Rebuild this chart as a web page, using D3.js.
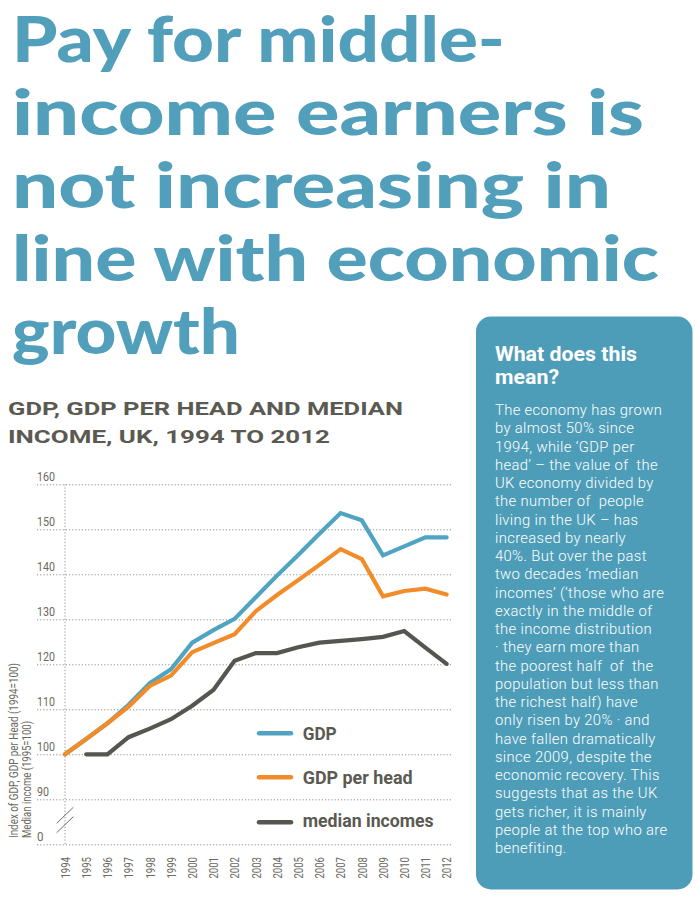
<!DOCTYPE html>
<html>
<head>
<meta charset="utf-8">
<script src="https://cdn.jsdelivr.net/npm/d3@7"></script>
<style>
  html, body { margin: 0; padding: 0; background: #ffffff; }
  svg { display: block; }
</style>
</head>
<body>
<svg id="chart" width="700" height="904"></svg>
<script>
// ---------------- DATA ----------------
const years = [1994,1995,1996,1997,1998,1999,2000,2001,2002,2003,2004,2005,2006,2007,2008,2009,2010,2011,2012];
const gdp = [100,103.4,106.9,111,115.8,118.9,124.8,127.6,130.1,134.9,139.7,144.3,149,153.6,152,144.2,146.2,148.2,148.2];
const gdpPerHead = [100,103.4,106.9,110.6,115.2,117.5,122.7,124.7,126.7,131.8,135.4,138.7,142.1,145.6,143.4,135.1,136.3,136.8,135.5];
const medianIncome = [null,100,100,103.8,105.7,107.8,110.8,114.3,120.8,122.5,122.5,123.8,124.8,125.2,125.6,126.1,127.4,123.7,120.1];
const seriesNames = ["GDP","GDP per head","median incomes"];
const yTickValues = [80,90,100,110,120,130,140,150,160];
const yTickLabels = ["0","90","100","110","120","130","140","150","160"];

const titleLines = ["Pay for middle-","income earners is","not increasing in","line with economic","growth"];
const subtitleLines = ["GDP, GDP PER HEAD AND MEDIAN","INCOME, UK, 1994 TO 2012"];
const yAxisLabelLines = ["Index of GDP, GDP per Head (1994=100)","Median income (1995=100)"];
const boxHeading = ["What does this","mean?"];
const boxBody = [
  "The economy has grown",
  "by almost 50% since",
  "1994, while \u2018GDP per",
  "head\u2019 \u2013 the value of  the",
  "UK economy divided by",
  "the number of  people",
  "living in the UK \u2013 has",
  "increased by nearly",
  "40%. But over the past",
  "two decades \u2018median",
  "incomes\u2019 (\u2018those who are",
  "exactly in the middle of",
  "the income distribution",
  "\u00b7 they earn more than",
  "the poorest half  of  the",
  "population but less than",
  "the richest half) have",
  "only risen by 20% \u00b7 and",
  "have fallen dramatically",
  "since 2009, despite the",
  "economic recovery. This",
  "suggests that as the UK",
  "gets richer, it is mainly",
  "people at the top who are",
  "benefiting."
];

// ---------------- STYLE ----------------
const colors = { gdp: "#4ea4c1", perHead: "#f28c2b", median: "#55564f" };
const titleColor = "#519fba";
const darkText = "#5a5a52";
const tickColor = "#6a6a60";
const boxColor = "#4e9db8";

const svg = d3.select("#chart");

// ---------------- TITLE ----------------
const titleWidths = [493, 632, 599, 647, 228];
const title = svg.append("g");
titleLines.forEach((t, i) => {
  title.append("text")
    .attr("x", 12).attr("y", 62 + i * 72.9)
    .attr("font-family", "Lato, 'Open Sans', sans-serif")
    .attr("font-weight", 900)
    .attr("font-size", 62)
    .attr("fill", titleColor)
    .attr("textLength", titleWidths[i])
    .attr("lengthAdjust", "spacingAndGlyphs")
    .text(t);
});

// ---------------- SUBTITLE ----------------
const subWidths = [395, 322];
subtitleLines.forEach((t, i) => {
  svg.append("text")
    .attr("x", 8).attr("y", 415 + i * 28)
    .attr("font-family", "Roboto, sans-serif")
    .attr("font-weight", 700)
    .attr("font-size", 19)
    .attr("fill", darkText)
    .attr("textLength", subWidths[i])
    .attr("lengthAdjust", "spacingAndGlyphs")
    .text(t);
});

// ---------------- SCALES ----------------
const x = d3.scalePoint().domain(years).range([65, 446.6]);
const y = d3.scaleLinear().domain([80, 160]).range([844.3, 484.3]);

// Y axis / gridlines
const gridLeft = 37, gridRight = 453;
const yAxis = d3.axisRight(y)
  .tickValues(yTickValues)
  .tickSize(gridRight - gridLeft)
  .tickFormat((d, i) => yTickLabels[i]);
const gy = svg.append("g").attr("transform", `translate(${gridLeft},0)`).call(yAxis);
gy.select(".domain").remove();
gy.selectAll(".tick line")
  .attr("stroke", "#8f8f8a")
  .attr("stroke-width", 1)
  .attr("stroke-dasharray", "1.2,2");
gy.selectAll(".tick text")
  .attr("x", 0).attr("dy", 0).attr("y", -4)
  .attr("text-anchor", "start")
  .attr("font-family", "Roboto, sans-serif")
  .attr("font-weight", 400)
  .attr("font-size", 13)
  .attr("fill", tickColor)
  .attr("textLength", d => (d === 80 ? 6.5 : (d < 100 ? 12 : 18)))
  .attr("lengthAdjust", "spacingAndGlyphs");

// vertical dotted axis at 1994
svg.append("line")
  .attr("x1", x(years[0])).attr("x2", x(years[0]))
  .attr("y1", y(160)).attr("y2", y(80))
  .attr("stroke", "#8f8f8a").attr("stroke-width", 1)
  .attr("stroke-dasharray", "1.2,2");

// axis break marks
const brk = svg.append("g").attr("stroke", "#6e6e64").attr("stroke-width", 1);
[0, 9.4].forEach(off => {
  brk.append("line")
    .attr("x1", 56.7).attr("y1", 823.3 + off)
    .attr("x2", 73.3).attr("y2", 807.3 + off);
});

// X axis labels
const xAxis = d3.axisBottom(x).tickSize(0).tickFormat(d => String(d));
const gx = svg.append("g").attr("transform", "translate(0,857)").call(xAxis);
gx.select(".domain").remove();
gx.selectAll(".tick text")
  .attr("transform", "rotate(-90)")
  .attr("x", 0).attr("y", 0).attr("dy", "0.35em")
  .attr("text-anchor", "end")
  .attr("font-family", "Roboto, sans-serif")
  .attr("font-weight", 400)
  .attr("font-size", 12)
  .attr("fill", tickColor)
  .attr("textLength", 21.5)
  .attr("lengthAdjust", "spacingAndGlyphs");

// Y axis title (two rotated lines)
const yLabWidths = [175, 117];
yAxisLabelLines.forEach((t, i) => {
  svg.append("text")
    .attr("transform", `translate(${18 + i * 13},838) rotate(-90)`)
    .attr("text-anchor", "start")
    .attr("font-family", "Roboto, sans-serif")
    .attr("font-weight", 400)
    .attr("font-size", 12)
    .attr("fill", tickColor)
    .attr("textLength", yLabWidths[i])
    .attr("lengthAdjust", "spacingAndGlyphs")
    .text(t);
});

// ---------------- LINES ----------------
const line = d3.line()
  .defined(d => d.v !== null)
  .x(d => x(d.year))
  .y(d => y(d.v));
const toPts = arr => years.map((yr, i) => ({ year: yr, v: arr[i] }));

const series = [
  { name: seriesNames[2], values: medianIncome, color: colors.median },
  { name: seriesNames[1], values: gdpPerHead, color: colors.perHead },
  { name: seriesNames[0], values: gdp, color: colors.gdp }
];
const drawOrder = [series[0], series[2], series[1]];
svg.append("g").selectAll("path")
  .data(drawOrder)
  .join("path")
  .attr("d", d => line(toPts(d.values)))
  .attr("fill", "none")
  .attr("stroke", d => d.color)
  .attr("stroke-width", 4.2)
  .attr("stroke-linejoin", "miter")
  .attr("stroke-linecap", "round");

// ---------------- LEGEND ----------------
const legendItems = [
  { name: seriesNames[0], color: colors.gdp, ly: 733.3, ty: 740, w: 34 },
  { name: seriesNames[1], color: colors.perHead, ly: 777.3, ty: 784.3, w: 110 },
  { name: seriesNames[2], color: colors.median, ly: 822.3, ty: 826.7, w: 131 }
];
const lg = svg.append("g");
legendItems.forEach(it => {
  lg.append("line")
    .attr("x1", 259).attr("x2", 291)
    .attr("y1", it.ly).attr("y2", it.ly)
    .attr("stroke", it.color).attr("stroke-width", 4.5)
    .attr("stroke-linecap", "round");
  lg.append("text")
    .attr("x", 302.7).attr("y", it.ty)
    .attr("font-family", "Roboto, sans-serif")
    .attr("font-weight", 700)
    .attr("font-size", 18)
    .attr("fill", darkText)
    .attr("textLength", it.w)
    .attr("lengthAdjust", "spacingAndGlyphs")
    .text(it.name);
});

// ---------------- SIDE BOX ----------------
svg.append("rect")
  .attr("x", 476).attr("y", 316.5)
  .attr("width", 216.5).attr("height", 573)
  .attr("rx", 15).attr("ry", 15)
  .attr("fill", boxColor);

const headWidths = [142, 64];
boxHeading.forEach((t, i) => {
  svg.append("text")
    .attr("x", 495).attr("y", 360.5 + i * 23.5)
    .attr("font-family", "Roboto, sans-serif")
    .attr("font-weight", 700)
    .attr("font-size", 19.5)
    .attr("fill", "#ffffff")
    .attr("textLength", headWidths[i])
    .attr("lengthAdjust", "spacingAndGlyphs")
    .text(t);
});

const body = svg.append("text")
  .attr("font-family", "Roboto, sans-serif")
  .attr("font-weight", 300)
  .attr("font-size", 14.8)
  .attr("letter-spacing", 0.35)
  .attr("fill", "#ffffff");
boxBody.forEach((t, i) => {
  body.append("tspan")
    .attr("x", 495)
    .attr("y", 415 + i * 18.26)
    .attr("xml:space", "preserve")
    .text(t);
});
</script>
</body>
</html>
